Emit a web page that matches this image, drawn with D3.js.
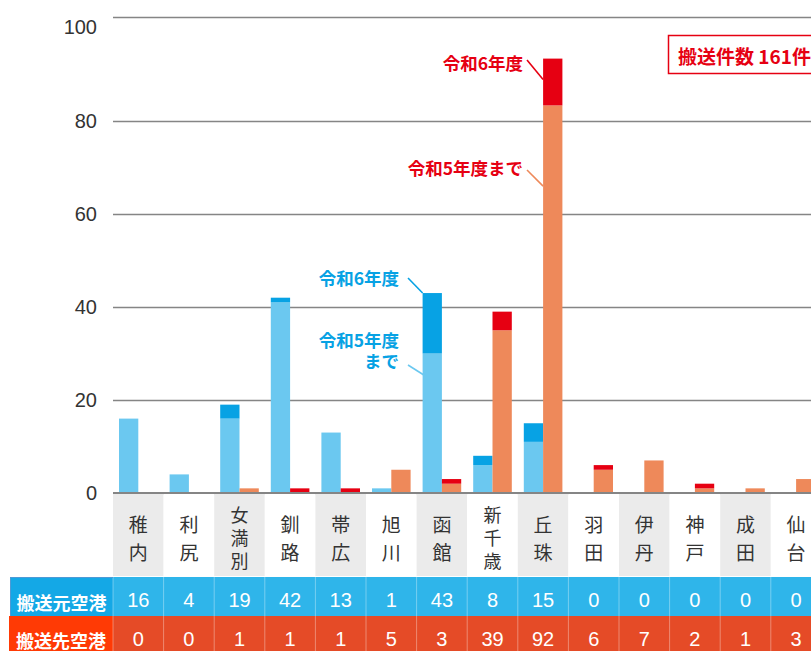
<!DOCTYPE html>
<html>
<head>
<meta charset="utf-8">
<script src="https://cdn.jsdelivr.net/npm/d3@7"></script>
<style>
  html, body { margin: 0; padding: 0; background: #fff; overflow: hidden; }
  svg { display: block; }
</style>
</head>
<body>
<svg id="chart" width="811" height="651"></svg>
<script>
// ---------------- data ----------------
const categories = ['稚内','利尻','女満別','釧路','帯広','旭川','函館','新千歳','丘珠','羽田','伊丹','神戸','成田','仙台'];
// 搬送元空港 (origin)
const originR5 = [16, 4, 16, 41, 13, 1, 30, 6, 11, 0, 0, 0, 0, 0];   // 令和5年度まで
const originR6 = [0, 0, 3, 1, 0, 0, 13, 2, 4, 0, 0, 0, 0, 0];        // 令和6年度
// 搬送先空港 (destination)
const destR5 = [0, 0, 1, 0, 0, 5, 2, 35, 83, 5, 7, 1, 1, 3];         // 令和5年度まで
const destR6 = [0, 0, 0, 1, 1, 0, 1, 4, 9, 1, 0, 1, 0, 0];           // 令和6年度
const originTotals = [16, 4, 19, 42, 13, 1, 43, 8, 15, 0, 0, 0, 0, 0];
const destTotals = [0, 0, 1, 1, 1, 5, 3, 39, 92, 6, 7, 2, 1, 3];
const yTicks = [0, 20, 40, 60, 80, 100];
const rowLabels = ['搬送元空港', '搬送先空港'];
const totalLabel = '搬送件数 161件';

// ---------------- styles ----------------
const C = {
  blueLight: '#6bc8f0', blueDark: '#07a2e4',
  salmon: '#ee895a', red: '#e60012',
  grid: '#858585', text: '#333',
  labelBg: '#ebebeb',
  rowBlue: '#2fb5ea', headBlue: '#14a8e6',
  rowRed: '#e54b27', headRed: '#ff3a05'
};
const jp = '"Noto Sans CJK JP", "Noto Sans", sans-serif';
const num = '"Liberation Sans", Arial, Helvetica, sans-serif';

const svg = d3.select('#chart');
const W = 811;
const x0 = 113, step = 50.6;

const x = d3.scaleBand().domain(categories).range([x0, x0 + step * categories.length]);
const xs = d3.scaleBand().domain(['origin', 'dest']).range([6, x.bandwidth() - 6]);
const y = d3.scaleLinear().domain([0, 80, 100]).range([493, 121, 17]);

// grid + y labels
const axis = d3.axisLeft(y).tickValues(yTicks).tickSize(-(W - x0 + 5)).tickPadding(16);
const gAxis = svg.append('g').attr('transform', `translate(${x0},0)`).call(axis);
gAxis.select('.domain').remove();
gAxis.selectAll('.tick line').attr('stroke', C.grid).attr('stroke-width', 1.6);
gAxis.selectAll('.tick text')
  .attr('fill', C.text).style('font-family', num).style('font-size', '20px')
  .attr('transform', d => d === 100 ? 'translate(0,10)' : null);

// category label background
svg.append('g').selectAll('rect').data(categories).join('rect')
  .attr('x', d => x(d)).attr('y', 494)
  .attr('width', x.bandwidth()).attr('height', 82)
  .attr('fill', (d, i) => i % 2 === 0 ? C.labelBg : '#fff');

// bars
const rows = categories.map((c, i) => ({
  cat: c, oR5: originR5[i], oR6: originR6[i], dR5: destR5[i], dR6: destR6[i]
}));
const stackO = d3.stack().keys(['oR5', 'oR6'])(rows);
const stackD = d3.stack().keys(['dR5', 'dR6'])(rows);
const colorO = { oR5: C.blueLight, oR6: C.blueDark };
const colorD = { dR5: C.salmon, dR6: C.red };

const gBars = svg.append('g');
stackO.forEach(s => {
  gBars.append('g').attr('fill', colorO[s.key]).selectAll('rect').data(s).join('rect')
    .attr('x', d => x(d.data.cat) + xs('origin'))
    .attr('width', xs.bandwidth())
    .attr('y', d => y(d[1]))
    .attr('height', d => y(d[0]) - y(d[1]));
});
stackD.forEach(s => {
  gBars.append('g').attr('fill', colorD[s.key]).selectAll('rect').data(s).join('rect')
    .attr('x', d => x(d.data.cat) + xs('dest'))
    .attr('width', xs.bandwidth())
    .attr('y', d => y(d[1]))
    .attr('height', d => y(d[0]) - y(d[1]));
});

// baseline
svg.append('line').attr('x1', x0).attr('x2', W).attr('y1', y(0)).attr('y2', y(0))
  .attr('stroke', C.grid).attr('stroke-width', 2);

// category labels (vertical)
const gCat = svg.append('g').style('font-family', jp).attr('fill', C.text);
categories.forEach(c => {
  const chars = Array.from(c);
  const three = chars.length === 3;
  const ys = three ? [514, 537, 560] : [523, 551];
  chars.forEach((ch, k) => {
    gCat.append('text').attr('x', x(c) + x.bandwidth() / 2).attr('y', ys[k])
      .attr('text-anchor', 'middle').attr('dominant-baseline', 'central')
      .style('font-size', three ? '18px' : '19px').text(ch);
  });
});

// table rows
const rowY = [577, 616];
const rowH = [39, 40];
const rowFill = [C.rowBlue, C.rowRed];
const headFill = [C.headBlue, C.headRed];
const headX = [10, 9];
const totals = [originTotals, destTotals];
const numY = [600, 639];
const headTextY = [602, 640];

rowY.forEach((ry, r) => {
  svg.append('rect').attr('x', x0).attr('y', ry).attr('width', W - x0).attr('height', rowH[r]).attr('fill', rowFill[r]);
  svg.append('rect').attr('x', headX[r]).attr('y', ry).attr('width', x0 - headX[r]).attr('height', rowH[r]).attr('fill', headFill[r]);
  svg.append('g').selectAll('line').data(categories).join('line')
    .attr('x1', d => x(d)).attr('x2', d => x(d))
    .attr('y1', ry).attr('y2', ry + rowH[r])
    .attr('stroke', 'rgba(255,255,255,0.35)').attr('stroke-width', 1);
  svg.append('g').selectAll('text').data(categories).join('text')
    .attr('x', d => x(d) + x.bandwidth() / 2).attr('y', numY[r])
    .attr('text-anchor', 'middle').attr('dominant-baseline', 'central')
    .attr('fill', '#fff').style('font-family', num).style('font-size', '20px')
    .text((d, i) => totals[r][i]);
  svg.append('text').attr('x', (headX[r] + x0) / 2).attr('y', headTextY[r])
    .attr('text-anchor', 'middle').attr('dominant-baseline', 'central')
    .attr('fill', '#fff').style('font-family', jp).style('font-size', '18px').style('font-weight', 'bold')
    .text(rowLabels[r]);
});
svg.append('line').attr('x1', headX[0]).attr('x2', x0).attr('y1', 577.5).attr('y2', 577.5)
  .attr('stroke', '#4d9ad6').attr('stroke-width', 1);
svg.append('line').attr('x1', 10.5).attr('x2', 10.5).attr('y1', 577).attr('y2', 616)
  .attr('stroke', '#4d9ad6').attr('stroke-width', 1);

// annotations
const gAnn = svg.append('g').style('font-family', jp).style('font-size', '17.5px').style('font-weight', 'bold');
function annotate(cat, series, val, dxEnd, lines, color, lineColor, lx, ly, textRight, textYs) {
  const bx = x(cat) + xs(series) + dxEnd;
  const by = y(val);
  gAnn.append('line').attr('x1', lx).attr('y1', ly).attr('x2', bx).attr('y2', by)
    .attr('stroke', lineColor).attr('stroke-width', 1.6);
  lines.forEach((t, k) => {
    gAnn.append('text').attr('x', textRight).attr('y', textYs[k])
      .attr('text-anchor', 'end').attr('dominant-baseline', 'central')
      .attr('fill', color).text(t);
  });
}
annotate('丘珠', 'dest', 88, 0, ['令和6年度'], C.red, C.red, 527, 60, 523, [62]);
annotate('丘珠', 'dest', 66, 0, ['令和5年度まで'], C.red, C.salmon, 527, 170, 523, [167]);
annotate('函館', 'origin', 43, 0, ['令和6年度'], C.blueDark, C.blueDark, 408, 278, 399, [277]);
annotate('函館', 'origin', 25, 4, ['令和5年度', 'まで'], C.blueDark, C.blueLight, 408, 365, 399, [339, 360]);

// total box
svg.append('rect').attr('x', 668.5).attr('y', 35.5).attr('width', 200).attr('height', 38)
  .attr('fill', '#fff').attr('stroke', C.red).attr('stroke-width', 1.5);
svg.append('text').attr('x', 678).attr('y', 55).attr('dominant-baseline', 'central')
  .attr('fill', C.red).style('font-family', jp).style('font-size', '19px').style('font-weight', 'bold')
  .text(totalLabel);
</script>
</body>
</html>
